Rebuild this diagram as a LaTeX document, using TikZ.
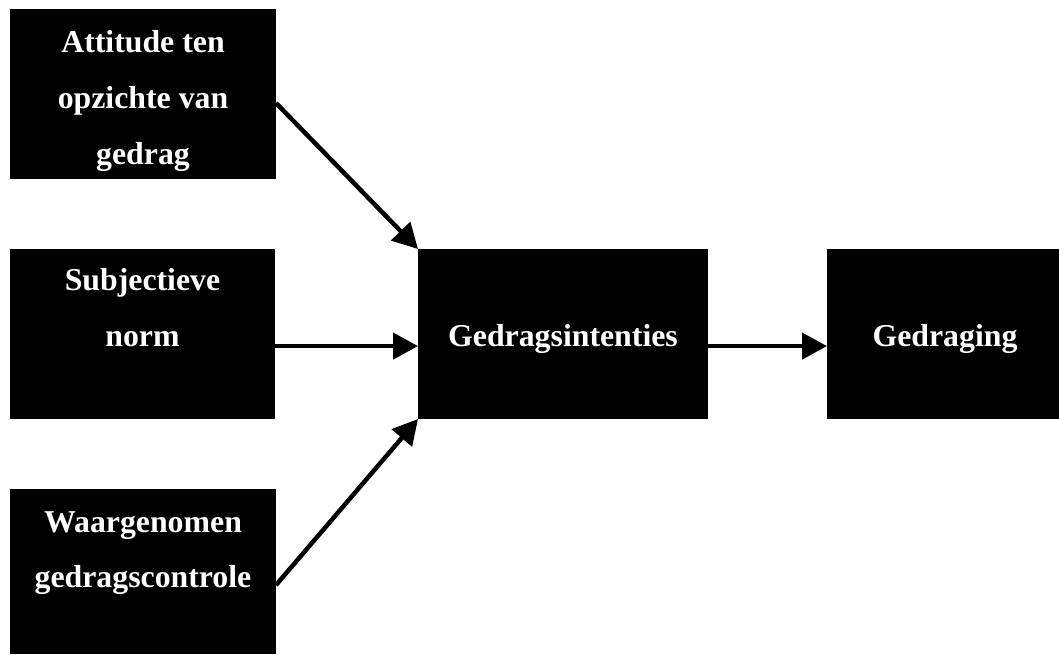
\documentclass[tikz,border=0pt]{standalone}
\usepackage{fontspec}
\setmainfont{Liberation Serif}
\usetikzlibrary{arrows.meta,calc}
\begin{document}
\begin{tikzpicture}[x=1pt,y=-1pt,
  blackbox/.style={fill=black,draw=none,inner sep=0pt,outer sep=0pt},
  boxtext/.style={text=white,anchor=base,inner sep=0pt,font=\bfseries\fontsize{31.8}{38}\selectfont},
  conn/.style={line width=4.5pt,-{Triangle[length=25pt,width=26pt]}}]
\useasboundingbox (0,0) rectangle (1059,654);
% boxes
\node[blackbox,minimum width=266pt,minimum height=170pt] (att) at (143,94) {};
\node[blackbox,minimum width=265pt,minimum height=170pt] (norm) at (142.5,334) {};
\node[blackbox,minimum width=266pt,minimum height=165pt] (ctrl) at (143,571.5) {};
\node[blackbox,minimum width=290pt,minimum height=170pt] (mid) at (563,334) {};
\node[blackbox,minimum width=232pt,minimum height=170pt] (ged) at (943,334) {};
% texts
\node[boxtext] (t1) at (143,52) {Attitude ten};
\node[boxtext] (t2) at (143,108) {opzichte van};
\node[boxtext] (t3) at (143,164) {gedrag};
\node[boxtext] (t4) at (142.5,290) {Subjectieve};
\node[boxtext] (t5) at (142.5,346) {norm};
\node[boxtext] (t6) at (143,532) {Waargenomen};
\node[boxtext] (t7) at (143,587) {gedragscontrole};
\node[boxtext] (t8) at (563,346) {Gedragsintenties};
\node[boxtext] (t9) at (945,346) {Gedraging};
% connectors
\draw[conn] ($(att.north east)!0.553!(att.south east)$) -- (mid.north west);
\draw[conn] ($(norm.north east)!0.571!(norm.south east)$) -- ($(mid.north west)!0.571!(mid.south west)$);
\draw[conn] ($(ctrl.north east)!0.582!(ctrl.south east)$) -- (mid.south west);
\draw[conn] ($(mid.north east)!0.571!(mid.south east)$) -- ($(ged.north west)!0.571!(ged.south west)$);
\end{tikzpicture}
\end{document}
